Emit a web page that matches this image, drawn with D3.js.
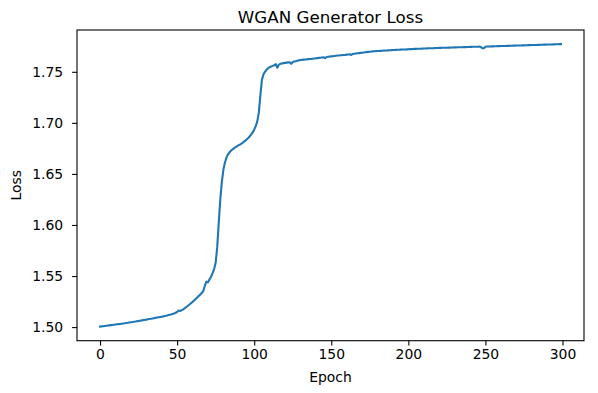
<!DOCTYPE html>
<html>
<head>
<meta charset="utf-8">
<script type='text/javascript' src='https://d3js.org/d3.v7.min.js'></script>
<style>
  body { margin: 0; background: #fff; }
  text { font-family: "DejaVu Sans", sans-serif; fill: #000; }
</style>
</head>
<body>
<script>
// generator loss per epoch
var loss = [
  1.5005,1.5007,1.5009,1.5011,1.5013,1.5015,1.5017,1.5019,1.5021,1.5023,
  1.5025,1.5027,1.5029,1.5031,1.5033,1.5035,1.5037,1.5040,1.5042,1.5045,
  1.5048,1.5050,1.5053,1.5055,1.5058,1.5060,1.5063,1.5066,1.5068,1.5071,
  1.5073,1.5076,1.5079,1.5081,1.5084,1.5087,1.5090,1.5093,1.5096,1.5099,
  1.5102,1.5105,1.5108,1.5112,1.5116,1.5120,1.5124,1.5129,1.5134,1.5140,
  1.5148,1.5162,1.5158,1.5166,1.5174,1.5185,1.5197,1.5209,1.5221,1.5234,
  1.5247,1.5261,1.5275,1.5290,1.5304,1.5318,1.5333,1.5355,1.5405,1.5445,
  1.5438,1.5465,1.5492,1.5528,1.5568,1.5630,1.5780,1.6020,1.6250,1.6420,
  1.6540,1.6610,1.6660,1.6692,1.6712,1.6728,1.6741,1.6752,1.6762,1.6772,
  1.6781,1.6790,1.6800,1.6811,1.6823,1.6836,1.6850,1.6866,1.6884,1.6906,
  1.6933,1.6968,1.7015,1.7100,1.7270,1.7420,1.7475,1.7500,1.7520,1.7535,
  1.7545,1.7552,1.7558,1.7563,1.7575,1.7540,1.7570,1.7578,1.7582,1.7585,
  1.7587,1.7590,1.7592,1.7594,1.7578,1.7596,1.7600,1.7604,1.7608,1.7612,
  1.7615,1.7617,1.7619,1.7621,1.7622,1.7624,1.7625,1.7626,1.7628,1.7630,
  1.7632,1.7634,1.7636,1.7638,1.7640,1.7642,1.7634,1.7645,1.7647,1.7649,
  1.7651,1.7653,1.7655,1.7657,1.7659,1.7660,1.7662,1.7663,1.7665,1.7666,
  1.7668,1.7670,1.7672,1.7665,1.7675,1.7677,1.7679,1.7681,1.7683,1.7685,
  1.7687,1.7689,1.7691,1.7693,1.7695,1.7697,1.7699,1.7700,1.7701,1.7702,
  1.7703,1.7704,1.7705,1.7706,1.7707,1.7708,1.7709,1.7710,1.7711,1.7712,
  1.7713,1.7714,1.7715,1.7716,1.7716,1.7717,1.7718,1.7719,1.7719,1.7720,
  1.7721,1.7722,1.7722,1.7723,1.7724,1.7724,1.7725,1.7726,1.7726,1.7727,
  1.7728,1.7728,1.7729,1.7730,1.7730,1.7731,1.7731,1.7732,1.7733,1.7733,
  1.7734,1.7734,1.7735,1.7735,1.7736,1.7736,1.7737,1.7737,1.7738,1.7738,
  1.7739,1.7739,1.7740,1.7740,1.7741,1.7741,1.7742,1.7742,1.7743,1.7743,
  1.7744,1.7744,1.7745,1.7745,1.7746,1.7746,1.7747,1.7742,1.7732,1.7730,
  1.7745,1.7747,1.7748,1.7748,1.7749,1.7749,1.7750,1.7750,1.7751,1.7751,
  1.7752,1.7752,1.7753,1.7753,1.7754,1.7754,1.7755,1.7755,1.7756,1.7756,
  1.7757,1.7757,1.7758,1.7758,1.7759,1.7759,1.7760,1.7760,1.7761,1.7761,
  1.7762,1.7762,1.7763,1.7763,1.7764,1.7764,1.7765,1.7765,1.7766,1.7766,
  1.7767,1.7767,1.7768,1.7768,1.7769,1.7769,1.7770,1.7770,1.7771,1.7771
];
var epochs = loss.map(function(d, i) { return i; });
var xTicks = [0, 50, 100, 150, 200, 250, 300];
var yTicks = [1.50, 1.55, 1.60, 1.65, 1.70, 1.75];

const width = 598, height = 393;
const mLeft = 77, mRight = 584, mTop = 30, mBottom = 340.7;

const svg = d3.select("body")
  .append("svg")
  .attr("width", width)
  .attr("height", height);

// matplotlib-like 5% margins around the data
var xExt = d3.extent(epochs), yExt = d3.extent(loss);
var xPad = (xExt[1] - xExt[0]) * 0.05, yPad = (yExt[1] - yExt[0]) * 0.05;

var x = d3.scaleLinear().domain([xExt[0] - xPad, xExt[1] + xPad]).range([mLeft, mRight]);
var y = d3.scaleLinear().domain([yExt[0] - yPad, yExt[1] + yPad]).range([mBottom, mTop]);

// x axis
var gx = svg.append("g")
  .attr("transform", "translate(0," + mBottom + ")")
  .call(d3.axisBottom(x).tickValues(xTicks).tickFormat(d3.format("d")).tickSize(4.9).tickPadding(3.5).tickSizeOuter(0));
gx.select(".domain").remove();
gx.selectAll("line").attr("stroke", "#000").attr("stroke-width", 1.1);
gx.selectAll("text").attr("font-size", 13.9).attr("fill", "#000").style("font-family", "'DejaVu Sans', sans-serif");

// y axis
var gy = svg.append("g")
  .attr("transform", "translate(" + mLeft + ",0)")
  .call(d3.axisLeft(y).tickValues(yTicks).tickFormat(d3.format(".2f")).tickSize(4.9).tickPadding(9).tickSizeOuter(0));
gy.select(".domain").remove();
gy.selectAll("line").attr("stroke", "#000").attr("stroke-width", 1.1);
gy.selectAll("text").attr("font-size", 13.9).attr("fill", "#000").style("font-family", "'DejaVu Sans', sans-serif");

// the loss line
var line = d3.line()
  .x(function(d, i) { return x(epochs[i]); })
  .y(function(d) { return y(d); });

svg.append("path")
  .datum(loss)
  .attr("fill", "none")
  .attr("stroke", "#1f77b4")
  .attr("stroke-width", 2.1)
  .attr("stroke-linejoin", "round")
  .attr("stroke-linecap", "square")
  .attr("d", line);

// frame
svg.append("rect")
  .attr("x", mLeft).attr("y", mTop)
  .attr("width", mRight - mLeft).attr("height", mBottom - mTop)
  .attr("fill", "none")
  .attr("stroke", "#000")
  .attr("stroke-width", 1.1);

// title + axis labels
svg.append("text")
  .attr("x", (mLeft + mRight) / 2).attr("y", 22.5)
  .attr("text-anchor", "middle")
  .attr("font-size", 16.7)
  .text("WGAN Generator Loss");

svg.append("text")
  .attr("x", (mLeft + mRight) / 2).attr("y", 382)
  .attr("text-anchor", "middle")
  .attr("font-size", 13.9)
  .text("Epoch");

svg.append("text")
  .attr("transform", "translate(21," + (mTop + mBottom) / 2 + ") rotate(-90)")
  .attr("text-anchor", "middle")
  .attr("font-size", 13.9)
  .text("Loss");
</script>
</body>
</html>
